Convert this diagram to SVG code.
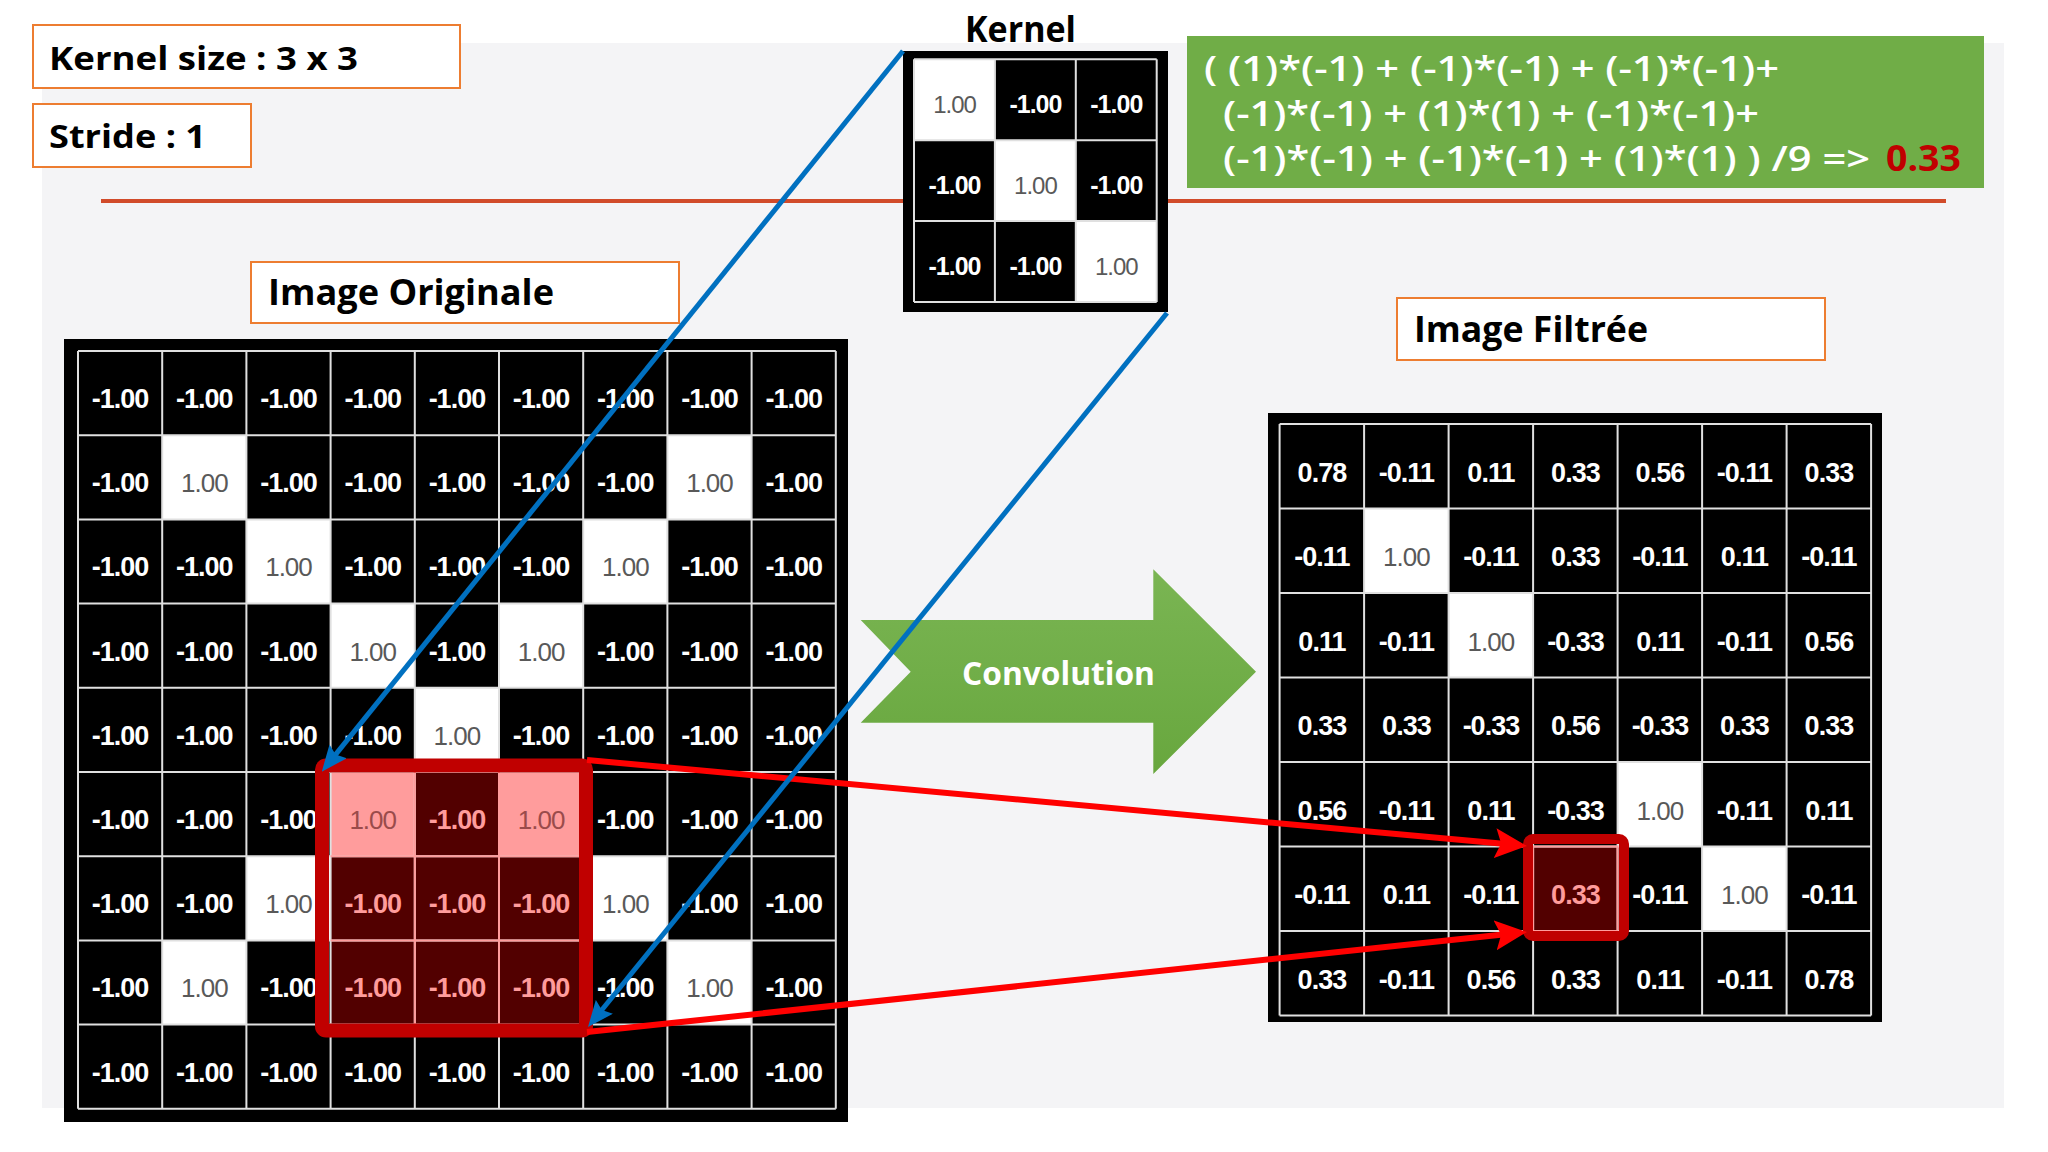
<svg xmlns="http://www.w3.org/2000/svg" width="2048" height="1152" viewBox="0 0 2048 1152">
<style>
.ttl{font-family:"Open Sans","Noto Sans","Liberation Sans",sans-serif;font-weight:bold;fill:#000}
.lbl{fill:#fff;stroke:#ed7d31;stroke-width:2}
.grid{fill:none;stroke:#e0e0e0;stroke-width:2}
.n{font-family:"Liberation Sans",Arial,sans-serif;font-size:27px;font-weight:bold;fill:#fff;text-anchor:middle;letter-spacing:-1px}
.p{font-family:"Liberation Sans",Arial,sans-serif;font-size:26px;fill:#595959;text-anchor:middle;letter-spacing:-1px}
.kn{font-family:"Liberation Sans",Arial,sans-serif;font-size:25px;font-weight:bold;fill:#fff;text-anchor:middle;letter-spacing:-1px}
.kp{font-family:"Liberation Sans",Arial,sans-serif;font-size:24px;fill:#595959;text-anchor:middle;letter-spacing:-1px}
.hn{font-family:"Liberation Sans",Arial,sans-serif;font-size:27px;font-weight:bold;fill:#ff9c9c;text-anchor:middle;letter-spacing:-1px}
.hp{font-family:"Liberation Sans",Arial,sans-serif;font-size:26px;fill:#9a4b4b;text-anchor:middle;letter-spacing:-1px}
.eq{font-family:"Open Sans","Noto Sans","Liberation Sans",sans-serif;font-size:35px;font-weight:600;fill:#fff}
</style>
<defs>
<marker id="arrB" markerUnits="userSpaceOnUse" markerWidth="26" markerHeight="22" refX="6" refY="11" orient="auto">
<path d="M0,0 L26,11 L0,22 L4,11 z" fill="#0070c0"/>
</marker>
<marker id="arrR" markerUnits="userSpaceOnUse" markerWidth="32" markerHeight="30" refX="8" refY="15" orient="auto">
<path d="M0,0 L32,15 L0,30 L6,15 z" fill="#ff0000"/>
</marker>
<linearGradient id="gArrow" x1="0" y1="0" x2="0" y2="1">
<stop offset="0" stop-color="#7ab553"/>
<stop offset="1" stop-color="#68a73e"/>
</linearGradient>
</defs>

<rect id="background" x="42" y="43" width="1962" height="1065" fill="#f4f4f6"/>
<line id="separator" x1="101" y1="201" x2="1946" y2="201" stroke="#d14b2a" stroke-width="4"/>

<g id="label-kernel-size">
<rect class="lbl" x="33" y="25" width="427" height="63"/>
<text class="ttl" x="49" y="70" font-size="33" textLength="309" lengthAdjust="spacingAndGlyphs">Kernel size : 3 x 3</text>
</g>
<g id="label-stride">
<rect class="lbl" x="33" y="104" width="218" height="63"/>
<text class="ttl" x="49" y="148" font-size="33" textLength="157" lengthAdjust="spacingAndGlyphs">Stride : 1</text>
</g>
<g id="label-image-originale">
<rect class="lbl" x="251" y="262" width="428" height="61"/>
<text class="ttl" x="268" y="305" font-size="35" textLength="286" lengthAdjust="spacingAndGlyphs">Image Originale</text>
</g>
<g id="label-image-filtree">
<rect class="lbl" x="1397" y="298" width="428" height="62"/>
<text class="ttl" x="1414" y="342" font-size="35" textLength="234" lengthAdjust="spacingAndGlyphs">Image Filtrée</text>
</g>

<g id="formula">
<rect x="1187" y="36" width="797" height="152" fill="#70ad47"/>
<text class="eq" x="1204" y="81" textLength="575" lengthAdjust="spacingAndGlyphs">( (1)*(-1) + (-1)*(-1) + (-1)*(-1)+</text>
<text class="eq" x="1223" y="126" textLength="536" lengthAdjust="spacingAndGlyphs">(-1)*(-1) + (1)*(1) + (-1)*(-1)+</text>
<text class="eq" x="1223" y="171" textLength="647" lengthAdjust="spacingAndGlyphs">(-1)*(-1) + (-1)*(-1) + (1)*(1) ) /9 =&gt;</text>
<text class="eq" x="1886" y="171" font-weight="bold" style="fill:#c00000;font-weight:bold" textLength="75" lengthAdjust="spacingAndGlyphs">0.33</text>
</g>

<g id="kernel">
<text class="ttl" x="965" y="42" font-size="35" textLength="111" lengthAdjust="spacingAndGlyphs">Kernel</text>
<rect x="903" y="51" width="265" height="261" fill="#000"/>
<rect x="914" y="59.3" width="80.9" height="80.9" fill="#fff"/>
<rect x="994.9" y="140.2" width="80.9" height="80.9" fill="#fff"/>
<rect x="1075.8" y="221.1" width="80.9" height="80.9" fill="#fff"/>
<path class="grid" d="M914,59.3V302M994.9,59.3V302M1075.8,59.3V302M1156.7,59.3V302M914,59.3H1156.7M914,140.2H1156.7M914,221.1H1156.7M914,302H1156.7"/>
<text class="kp" x="954.5" y="113.3">1.00</text>
<text class="kn" x="1035.4" y="113.3">-1.00</text>
<text class="kn" x="1116.3" y="113.3">-1.00</text>
<text class="kn" x="954.5" y="194.2">-1.00</text>
<text class="kp" x="1035.4" y="194.2">1.00</text>
<text class="kn" x="1116.3" y="194.2">-1.00</text>
<text class="kn" x="954.5" y="275.1">-1.00</text>
<text class="kn" x="1035.4" y="275.1">-1.00</text>
<text class="kp" x="1116.3" y="275.1">1.00</text>
</g>

<g id="image-originale">
<rect x="64" y="339" width="784" height="783" fill="#000"/>
<rect x="162.2" y="435.2" width="84.2" height="84.2" fill="#fff"/>
<rect x="667.4" y="435.2" width="84.2" height="84.2" fill="#fff"/>
<rect x="246.4" y="519.4" width="84.2" height="84.2" fill="#fff"/>
<rect x="583.2" y="519.4" width="84.2" height="84.2" fill="#fff"/>
<rect x="330.6" y="603.6" width="84.2" height="84.2" fill="#fff"/>
<rect x="499" y="603.6" width="84.2" height="84.2" fill="#fff"/>
<rect x="414.8" y="687.8" width="84.2" height="84.2" fill="#fff"/>
<rect x="246.4" y="856.2" width="84.2" height="84.2" fill="#fff"/>
<rect x="583.2" y="856.2" width="84.2" height="84.2" fill="#fff"/>
<rect x="162.2" y="940.4" width="84.2" height="84.2" fill="#fff"/>
<rect x="667.4" y="940.4" width="84.2" height="84.2" fill="#fff"/>
<rect x="330.6" y="772" width="252.6" height="252.6" fill="#520000"/>
<rect x="330.6" y="772" width="84.2" height="84.2" fill="#ff9c9c"/>
<rect x="499" y="772" width="84.2" height="84.2" fill="#ff9c9c"/>
<path class="grid" d="M78,351V1108.8M162.2,351V1108.8M246.4,351V1108.8M330.6,351V1108.8M414.8,351V1108.8M499,351V1108.8M583.2,351V1108.8M667.4,351V1108.8M751.6,351V1108.8M835.8,351V1108.8M78,351H835.8M78,435.2H835.8M78,519.4H835.8M78,603.6H835.8M78,687.8H835.8M78,772H835.8M78,856.2H835.8M78,940.4H835.8M78,1024.6H835.8M78,1108.8H835.8"/>
<path d="M414.8,772V1024.6M499,772V1024.6M330.6,856.2H583.2M330.6,940.4H583.2" fill="none" stroke="#ff9c9c" stroke-width="2"/>
<text class="n" x="120.1" y="408">-1.00</text><text class="n" x="204.3" y="408">-1.00</text><text class="n" x="288.5" y="408">-1.00</text><text class="n" x="372.7" y="408">-1.00</text><text class="n" x="456.9" y="408">-1.00</text><text class="n" x="541.1" y="408">-1.00</text><text class="n" x="625.3" y="408">-1.00</text><text class="n" x="709.5" y="408">-1.00</text><text class="n" x="793.7" y="408">-1.00</text>
<text class="n" x="120.1" y="492.2">-1.00</text><text class="p" x="204.3" y="492.2">1.00</text><text class="n" x="288.5" y="492.2">-1.00</text><text class="n" x="372.7" y="492.2">-1.00</text><text class="n" x="456.9" y="492.2">-1.00</text><text class="n" x="541.1" y="492.2">-1.00</text><text class="n" x="625.3" y="492.2">-1.00</text><text class="p" x="709.5" y="492.2">1.00</text><text class="n" x="793.7" y="492.2">-1.00</text>
<text class="n" x="120.1" y="576.4">-1.00</text><text class="n" x="204.3" y="576.4">-1.00</text><text class="p" x="288.5" y="576.4">1.00</text><text class="n" x="372.7" y="576.4">-1.00</text><text class="n" x="456.9" y="576.4">-1.00</text><text class="n" x="541.1" y="576.4">-1.00</text><text class="p" x="625.3" y="576.4">1.00</text><text class="n" x="709.5" y="576.4">-1.00</text><text class="n" x="793.7" y="576.4">-1.00</text>
<text class="n" x="120.1" y="660.6">-1.00</text><text class="n" x="204.3" y="660.6">-1.00</text><text class="n" x="288.5" y="660.6">-1.00</text><text class="p" x="372.7" y="660.6">1.00</text><text class="n" x="456.9" y="660.6">-1.00</text><text class="p" x="541.1" y="660.6">1.00</text><text class="n" x="625.3" y="660.6">-1.00</text><text class="n" x="709.5" y="660.6">-1.00</text><text class="n" x="793.7" y="660.6">-1.00</text>
<text class="n" x="120.1" y="744.8">-1.00</text><text class="n" x="204.3" y="744.8">-1.00</text><text class="n" x="288.5" y="744.8">-1.00</text><text class="n" x="372.7" y="744.8">-1.00</text><text class="p" x="456.9" y="744.8">1.00</text><text class="n" x="541.1" y="744.8">-1.00</text><text class="n" x="625.3" y="744.8">-1.00</text><text class="n" x="709.5" y="744.8">-1.00</text><text class="n" x="793.7" y="744.8">-1.00</text>
<text class="n" x="120.1" y="829">-1.00</text><text class="n" x="204.3" y="829">-1.00</text><text class="n" x="288.5" y="829">-1.00</text><text class="hp" x="372.7" y="829">1.00</text><text class="hn" x="456.9" y="829">-1.00</text><text class="hp" x="541.1" y="829">1.00</text><text class="n" x="625.3" y="829">-1.00</text><text class="n" x="709.5" y="829">-1.00</text><text class="n" x="793.7" y="829">-1.00</text>
<text class="n" x="120.1" y="913.2">-1.00</text><text class="n" x="204.3" y="913.2">-1.00</text><text class="p" x="288.5" y="913.2">1.00</text><text class="hn" x="372.7" y="913.2">-1.00</text><text class="hn" x="456.9" y="913.2">-1.00</text><text class="hn" x="541.1" y="913.2">-1.00</text><text class="p" x="625.3" y="913.2">1.00</text><text class="n" x="709.5" y="913.2">-1.00</text><text class="n" x="793.7" y="913.2">-1.00</text>
<text class="n" x="120.1" y="997.4">-1.00</text><text class="p" x="204.3" y="997.4">1.00</text><text class="n" x="288.5" y="997.4">-1.00</text><text class="hn" x="372.7" y="997.4">-1.00</text><text class="hn" x="456.9" y="997.4">-1.00</text><text class="hn" x="541.1" y="997.4">-1.00</text><text class="n" x="625.3" y="997.4">-1.00</text><text class="p" x="709.5" y="997.4">1.00</text><text class="n" x="793.7" y="997.4">-1.00</text>
<text class="n" x="120.1" y="1081.6">-1.00</text><text class="n" x="204.3" y="1081.6">-1.00</text><text class="n" x="288.5" y="1081.6">-1.00</text><text class="n" x="372.7" y="1081.6">-1.00</text><text class="n" x="456.9" y="1081.6">-1.00</text><text class="n" x="541.1" y="1081.6">-1.00</text><text class="n" x="625.3" y="1081.6">-1.00</text><text class="n" x="709.5" y="1081.6">-1.00</text><text class="n" x="793.7" y="1081.6">-1.00</text>
<rect x="322" y="765.5" width="264" height="265" rx="4" fill="none" stroke="#c00000" stroke-width="14"/>
</g>

<g id="convolution-arrow">
<polygon points="860.7,620 910.7,671.7 860.7,722.7 1153.3,722.7 1153.3,774 1256,671.7 1153.3,569.3 1153.3,620" fill="url(#gArrow)"/>
<text class="ttl" x="962" y="685" font-size="33" style="fill:#fff" textLength="193" lengthAdjust="spacingAndGlyphs">Convolution</text>
</g>

<g id="image-filtree">
<rect x="1268" y="413" width="614" height="609" fill="#000"/>
<rect x="1364.1" y="508.5" width="84.5" height="84.5" fill="#fff"/>
<rect x="1448.6" y="593" width="84.5" height="84.5" fill="#fff"/>
<rect x="1617.6" y="762" width="84.5" height="84.5" fill="#fff"/>
<rect x="1702.1" y="846.5" width="84.5" height="84.5" fill="#fff"/>
<rect x="1533.1" y="846.5" width="84.5" height="84.5" fill="#520000"/>
<path class="grid" d="M1279.6,424V1015.5M1364.1,424V1015.5M1448.6,424V1015.5M1533.1,424V1015.5M1617.6,424V1015.5M1702.1,424V1015.5M1786.6,424V1015.5M1871.1,424V1015.5M1279.6,424H1871.1M1279.6,508.5H1871.1M1279.6,593H1871.1M1279.6,677.5H1871.1M1279.6,762H1871.1M1279.6,846.5H1871.1M1279.6,931H1871.1M1279.6,1015.5H1871.1"/>
<rect x="1533.1" y="846.5" width="84.5" height="84.5" fill="none" stroke="#ff9c9c" stroke-width="2"/>
<text class="n" x="1321.9" y="481.7">0.78</text><text class="n" x="1406.4" y="481.7">-0.11</text><text class="n" x="1490.9" y="481.7">0.11</text><text class="n" x="1575.4" y="481.7">0.33</text><text class="n" x="1659.9" y="481.7">0.56</text><text class="n" x="1744.4" y="481.7">-0.11</text><text class="n" x="1828.9" y="481.7">0.33</text>
<text class="n" x="1321.9" y="566.2">-0.11</text><text class="p" x="1406.4" y="566.2">1.00</text><text class="n" x="1490.9" y="566.2">-0.11</text><text class="n" x="1575.4" y="566.2">0.33</text><text class="n" x="1659.9" y="566.2">-0.11</text><text class="n" x="1744.4" y="566.2">0.11</text><text class="n" x="1828.9" y="566.2">-0.11</text>
<text class="n" x="1321.9" y="650.7">0.11</text><text class="n" x="1406.4" y="650.7">-0.11</text><text class="p" x="1490.9" y="650.7">1.00</text><text class="n" x="1575.4" y="650.7">-0.33</text><text class="n" x="1659.9" y="650.7">0.11</text><text class="n" x="1744.4" y="650.7">-0.11</text><text class="n" x="1828.9" y="650.7">0.56</text>
<text class="n" x="1321.9" y="735.2">0.33</text><text class="n" x="1406.4" y="735.2">0.33</text><text class="n" x="1490.9" y="735.2">-0.33</text><text class="n" x="1575.4" y="735.2">0.56</text><text class="n" x="1659.9" y="735.2">-0.33</text><text class="n" x="1744.4" y="735.2">0.33</text><text class="n" x="1828.9" y="735.2">0.33</text>
<text class="n" x="1321.9" y="819.7">0.56</text><text class="n" x="1406.4" y="819.7">-0.11</text><text class="n" x="1490.9" y="819.7">0.11</text><text class="n" x="1575.4" y="819.7">-0.33</text><text class="p" x="1659.9" y="819.7">1.00</text><text class="n" x="1744.4" y="819.7">-0.11</text><text class="n" x="1828.9" y="819.7">0.11</text>
<text class="n" x="1321.9" y="904.2">-0.11</text><text class="n" x="1406.4" y="904.2">0.11</text><text class="n" x="1490.9" y="904.2">-0.11</text><text class="hn" x="1575.4" y="904.2">0.33</text><text class="n" x="1659.9" y="904.2">-0.11</text><text class="p" x="1744.4" y="904.2">1.00</text><text class="n" x="1828.9" y="904.2">-0.11</text>
<text class="n" x="1321.9" y="988.7">0.33</text><text class="n" x="1406.4" y="988.7">-0.11</text><text class="n" x="1490.9" y="988.7">0.56</text><text class="n" x="1575.4" y="988.7">0.33</text><text class="n" x="1659.9" y="988.7">0.11</text><text class="n" x="1744.4" y="988.7">-0.11</text><text class="n" x="1828.9" y="988.7">0.78</text>
<rect x="1528" y="839" width="96" height="97" rx="5" fill="none" stroke="#c00000" stroke-width="10"/>
</g>

<g id="connectors" fill="none">
<line x1="587" y1="760" x2="1503.1" y2="843.8" stroke="#ff0000" stroke-width="6" marker-end="url(#arrR)"/>
<line x1="587" y1="1032" x2="1503.1" y2="934.5" stroke="#ff0000" stroke-width="6" marker-end="url(#arrR)"/>
<line x1="903" y1="51" x2="334.3" y2="756.1" stroke="#0070c0" stroke-width="5" marker-end="url(#arrB)"/>
<line x1="1167" y1="313" x2="600.6" y2="1011.5" stroke="#0070c0" stroke-width="5" marker-end="url(#arrB)"/>
</g>
</svg>
